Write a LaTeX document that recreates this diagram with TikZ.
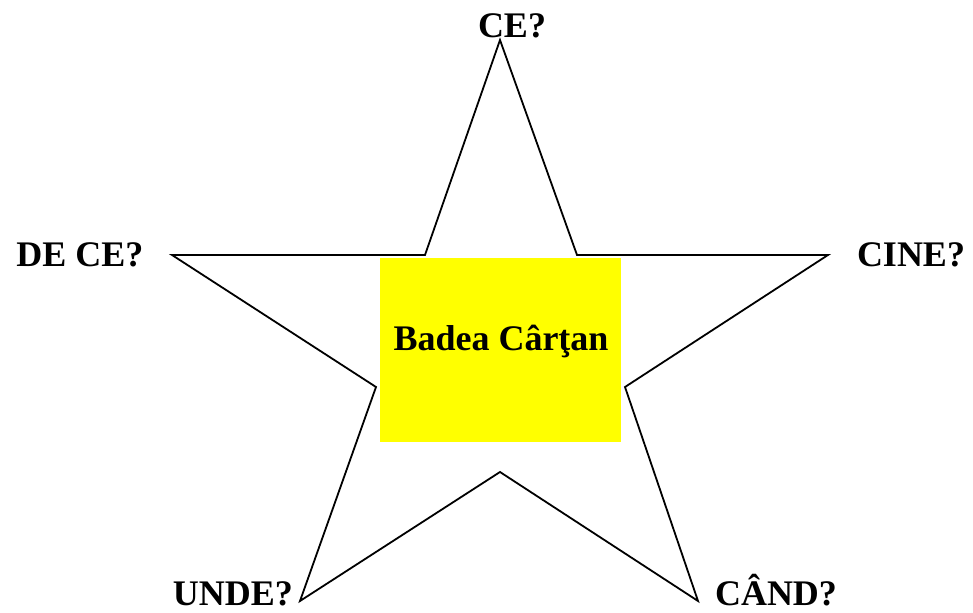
\documentclass[tikz,border=0pt]{standalone}
\usepackage{fontspec}
\setmainfont{Liberation Serif}
\usetikzlibrary{positioning}
\definecolor{boxyellow}{rgb}{1,1,0}
\tikzset{
  starline/.style={black,line width=0.9pt,line join=miter},
  qlab/.style={font=\fontsize{18}{20}\selectfont\bfseries,anchor=base,inner sep=0pt},
  namebox/.style={fill=boxyellow,draw=none},
}
\begin{document}
\begin{tikzpicture}[x=0.5pt,y=-0.5pt]
  \useasboundingbox (0,0) rectangle (973,613);
  % star: outer and inner corners
  \coordinate (top)  at (500,40);
  \coordinate (inUR) at (577,255);
  \coordinate (right) at (828,255);
  \coordinate (inR)  at (625,387);
  \coordinate (botR) at (698,601);
  \coordinate (inB)  at (500,472);
  \coordinate (botL) at (300,601);
  \coordinate (inL)  at (376,387);
  \coordinate (left) at (172,255);
  \coordinate (inUL) at (425,255);
  \draw[starline] (top) -- (inUR) -- (right) -- (inR) -- (botR) -- (inB)
    -- (botL) -- (inL) -- (left) -- (inUL) -- cycle;
  % centre box
  \fill[namebox] (380,258) rectangle (621,442);
  \node[qlab] (name) at (501,351) {Badea Cârţan};
  % questions at the tips
  \node[qlab] (ce)   at (512,38)  {CE?};
  \node[qlab] (cine) at (911,267) {CINE?};
  \node[qlab] (dece) at (80,267)  {DE CE?};
  \node[qlab] (unde) at (233,605) {UNDE?};
  \node[qlab] (cand) at (776,605) {CÂND?};
\end{tikzpicture}
\end{document}
